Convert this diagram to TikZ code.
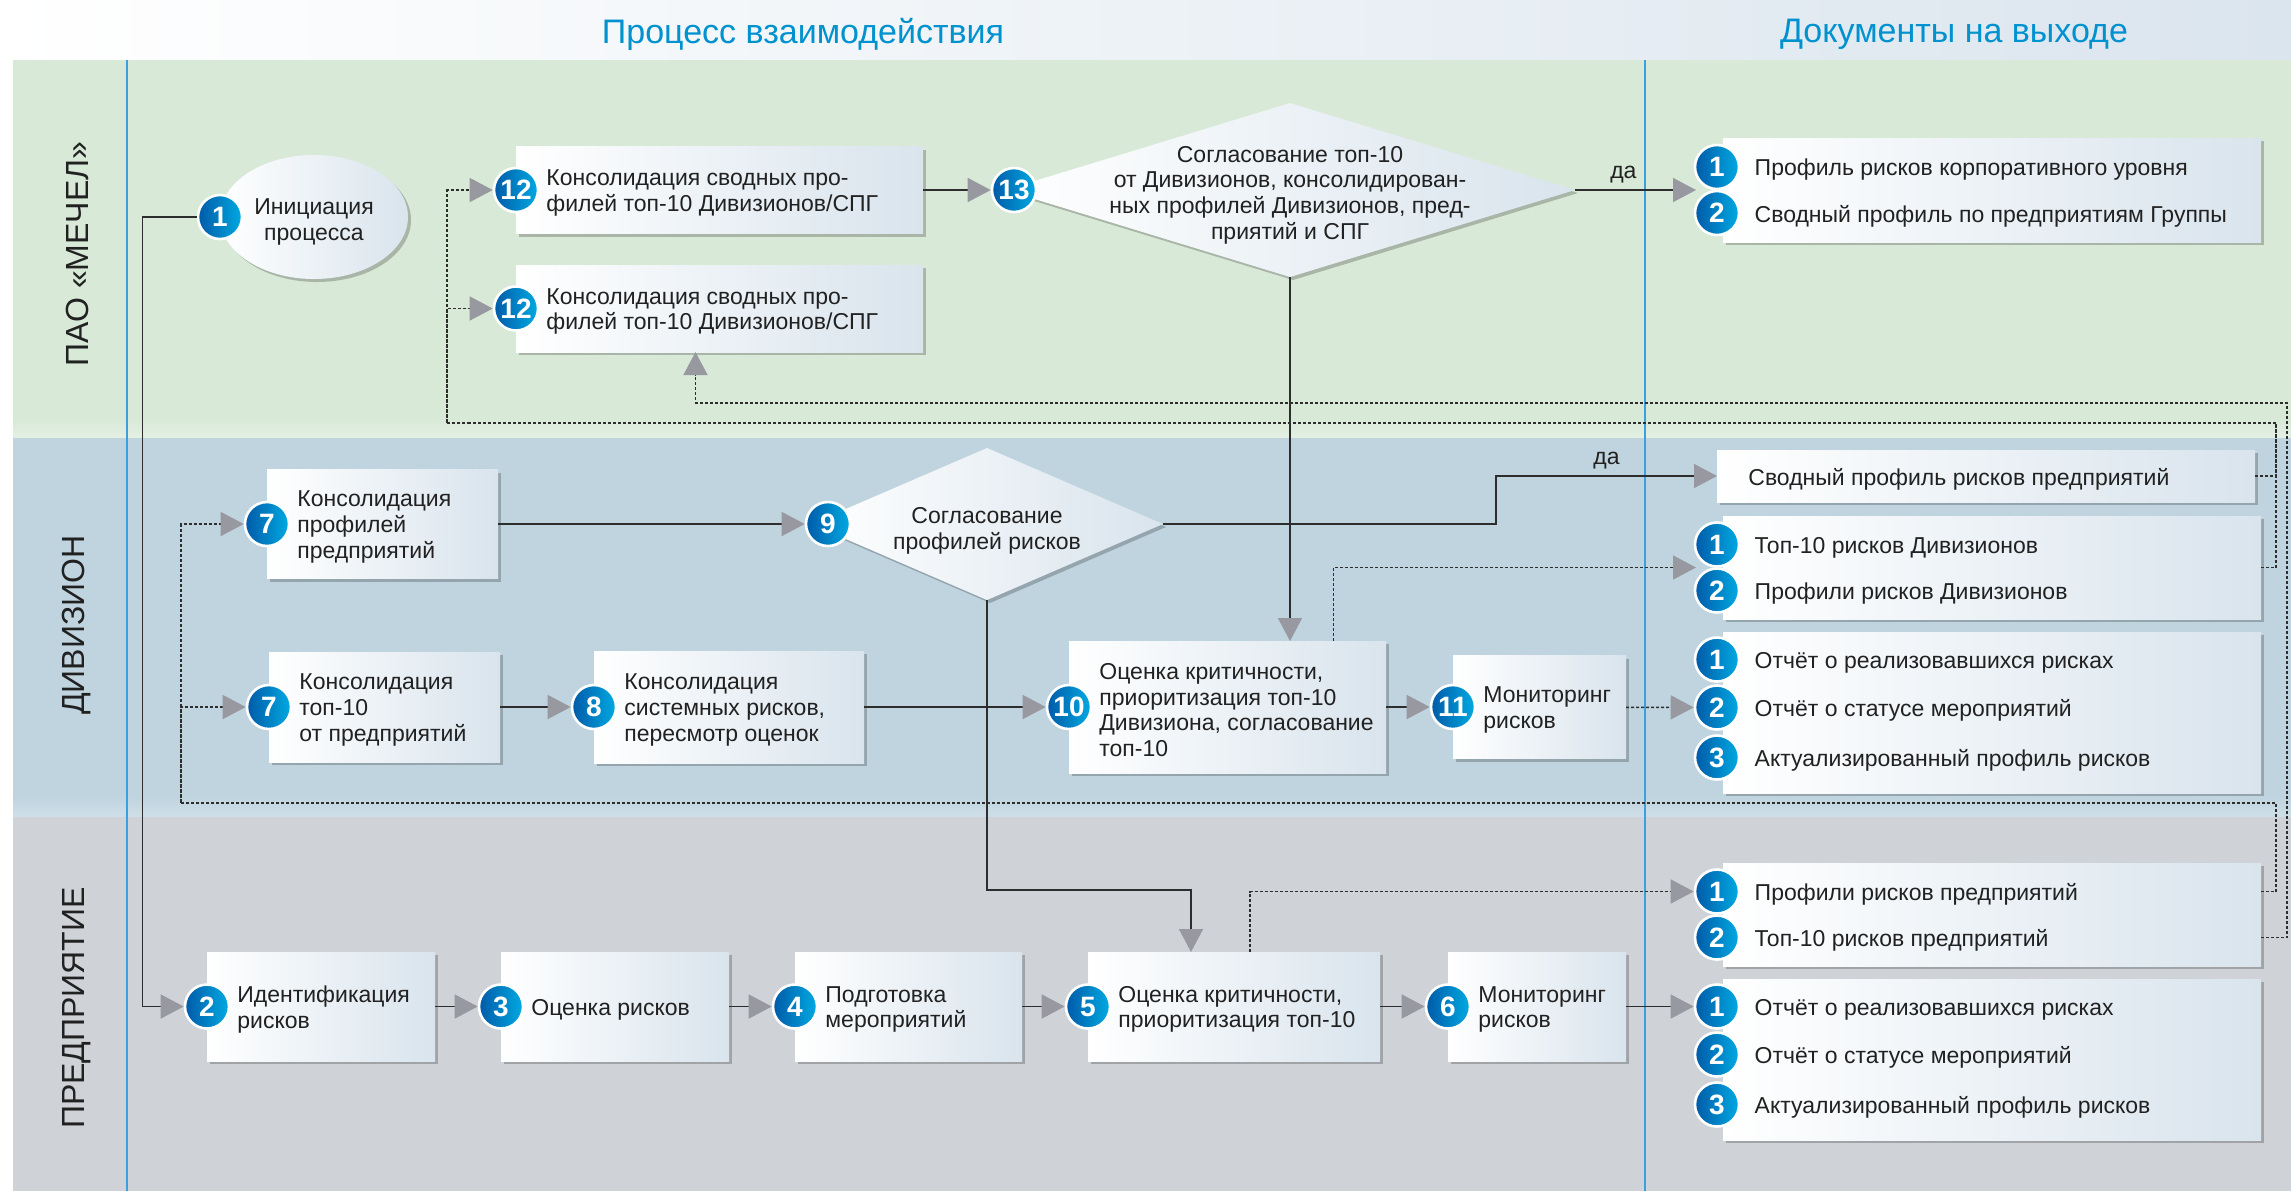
\documentclass[tikz,border=0pt]{standalone}
\usepackage{fontspec}
\setmainfont{Liberation Sans}
\usepackage{tikz}
\usetikzlibrary{arrows.meta,positioning,calc,shapes.geometric,shadows}
\definecolor{lanegreen}{RGB}{216,233,215}
\definecolor{lanegreenlow}{RGB}{228,240,227}
\definecolor{laneblue}{RGB}{192,212,223}
\definecolor{lanebluelow}{RGB}{207,223,232}
\definecolor{lanegrey}{RGB}{207,211,215}
\definecolor{headblue}{RGB}{219,229,238}
\definecolor{titleblue}{RGB}{0,145,207}
\definecolor{divblue}{RGB}{60,160,220}
\definecolor{boxright}{RGB}{217,228,237}
\definecolor{badgedark}{RGB}{0,90,168}
\definecolor{badgelight}{RGB}{0,170,226}
\definecolor{tipgrey}{RGB}{152,152,160}
\definecolor{linedark}{RGB}{45,45,45}
\definecolor{textdark}{RGB}{33,33,33}
\tikzset{
  softshadow/.style={drop shadow={shadow xshift=1.5pt, shadow yshift=-1.5pt,
    opacity=.22, fill=black}},
  procbox/.style={rectangle, left color=white, right color=boxright,
    inner sep=0pt, outer sep=0pt, softshadow},
  startnode/.style={ellipse, left color=white, right color=boxright,
    inner sep=0pt, outer sep=0pt, align=center, softshadow,
    font=\fontsize{11.5}{12.8}\selectfont, text=textdark},
  decision/.style={diamond, left color=white, right color=boxright,
    inner sep=0pt, outer sep=0pt, softshadow},
  boxtext/.style={anchor=west, align=left, inner sep=0pt, text=textdark,
    font=\fontsize{11.5}{12.8}\selectfont, yshift=-1.5pt},
  dectext/.style={align=center, inner sep=0pt, text=textdark,
    font=\fontsize{11.5}{12.8}\selectfont},
  badge/.style={circle, minimum size=22pt, inner sep=0pt,
    left color=badgedark, right color=badgelight, draw=white, line width=1.3pt,
    text=white, font=\fontsize{14}{14}\selectfont\bfseries},
  lanelabel/.style={rotate=90, text=textdark, font=\fontsize{16}{16}\selectfont},
  headtitle/.style={text=titleblue, font=\fontsize{17}{17}\selectfont},
  yeslabel/.style={above, text=textdark, font=\fontsize{11.5}{12}\selectfont},
  flow/.style={draw=linedark, line width=.75pt,
    -{Triangle[length=11.5pt, width=12pt, color=tipgrey]}},
  dashedflow/.style={flow, dash pattern=on 1.5pt off 1pt},
  dashedline/.style={draw=linedark, line width=.75pt, dash pattern=on 1.5pt off 1pt}
}

\begin{document}
\begin{tikzpicture}[x=0.5pt, y=-0.5pt, node distance=33pt]
\useasboundingbox (0,0) rectangle (2291,1191);
\fill[left color=white, right color=headblue] (0,0) rectangle (2291,60);
\fill[lanegreen] (13,60) rectangle (2291,438);
\fill[top color=lanegreen, bottom color=lanegreenlow] (13,418) rectangle (2291,438);
\fill[laneblue] (13,438) rectangle (2291,817);
\fill[top color=laneblue, bottom color=lanebluelow] (13,797) rectangle (2291,817);
\fill[lanegrey] (13,817) rectangle (2291,1191);
\draw[divblue, line width=1pt] (127,60) -- (127,1191) (1645,60) -- (1645,1191);

\node[headtitle] (head1) at (803,34) {Процесс взаимодействия};
\node[headtitle] (head2) at (1954,34) {Документы на выходе};
\node[lanelabel] (lane1) at (77,254) {ПАО «МЕЧЕЛ»};
\node[lanelabel] (lane2) at (77,625) {ДИВИЗИОН};
\node[lanelabel] (lane3) at (77,1008) {ПРЕДПРИЯТИЕ};

% ПАО
\node[startnode, minimum width=94pt, minimum height=62pt] (init) at (314,217) {};
\node[dectext, yshift=-2.5pt] (tinit) at (init) {Инициация\\процесса};
\node[badge] (n1) at (init.west) {1};
\node[procbox, minimum width=203.5pt, minimum height=43.5pt] (p12a) at (719.5,190) {};
\node[boxtext, right=15pt of p12a.west] (t12a) {Консолидация сводных про-\\филей топ-10 Дивизионов/СПГ};
\node[badge] (n12a) at (p12a.west) {12};
\node[procbox, minimum width=203.5pt, minimum height=43.5pt] (p12b) at (719.5,308.5) {};
\node[boxtext, right=15pt of p12b.west] (t12b) {Консолидация сводных про-\\филей топ-10 Дивизионов/СПГ};
\node[badge] (n12b) at (p12b.west) {12};
\node[decision, minimum width=285pt, minimum height=87pt] (d13) at (1290,190) {};
\node[dectext, yshift=-2.5pt] (t13) at (d13) {Согласование топ-10\\от Дивизионов, консолидирован-\\ных профилей Дивизионов, пред-\\приятий и СПГ};
\node[badge] (n13) at ([xshift=4.5pt]d13.west) {13};
\node[procbox, minimum width=269pt, minimum height=52pt] (o1) at (1992,190) {};
\node[badge] (o11) at ([xshift=-3pt, yshift=11.5pt]o1.west) {1};
\node[badge] (o12) at ([xshift=-3pt, yshift=-11.5pt]o1.west) {2};
\node[boxtext, right=7pt of o11] (o1t1) {Профиль рисков корпоративного уровня};
\node[boxtext, right=7pt of o12] (o1t2) {Сводный профиль по предприятиям Группы};

% Дивизион
\node[procbox, minimum width=115.5pt, minimum height=54.5pt] (p7a) at (382.5,524) {};
\node[boxtext, right=15pt of p7a.west] (t7a) {Консолидация\\профилей\\предприятий};
\node[badge] (n7a) at (p7a.west) {7};
\node[decision, minimum width=176pt, minimum height=76pt] (d9) at (987,524) {};
\node[dectext, yshift=-3.5pt] (t9) at (d9) {Согласование\\профилей рисков};
\node[badge] (n9) at ([xshift=8.5pt]d9.west) {9};
\node[procbox, minimum width=115.5pt, minimum height=55pt] (p7b) at (384.5,707) {};
\node[boxtext, right=15pt of p7b.west] (t7b) {Консолидация\\топ-10\\от предприятий};
\node[badge] (n7b) at (p7b.west) {7};
\node[procbox, minimum width=135pt, minimum height=56pt, right=47pt of p7b] (p8) {};
\node[boxtext, right=15pt of p8.west] (t8) {Консолидация\\системных рисков,\\пересмотр оценок};
\node[badge] (n8) at (p8.west) {8};
\node[procbox, minimum width=158.5pt, minimum height=66pt, right=102.5pt of p8] (p10) {};
\node[boxtext, right=15pt of p10.west] (t10) {Оценка критичности,\\приоритизация топ-10\\Дивизиона, согласование\\топ-10};
\node[badge] (n10) at (p10.west) {10};
\node[procbox, minimum width=86.5pt, minimum height=51.5pt, right=33.5pt of p10] (p11) {};
\node[boxtext, right=15pt of p11.west] (t11) {Мониторинг\\рисков};
\node[badge] (n11) at (p11.west) {11};
\node[procbox, minimum width=269pt, minimum height=26pt] (o2a) at (1986,476) {};
\node[boxtext, right=15.5pt of o2a.west] (o2at) {Сводный профиль рисков предприятий};
\node[procbox, minimum width=269pt, minimum height=51.5pt] (o2b) at (1992,567.5) {};
\node[badge] (o2b1) at ([xshift=-3pt, yshift=11.5pt]o2b.west) {1};
\node[badge] (o2b2) at ([xshift=-3pt, yshift=-11.5pt]o2b.west) {2};
\node[boxtext, right=7pt of o2b1] (o2bt1) {Топ-10 рисков Дивизионов};
\node[boxtext, right=7pt of o2b2] (o2bt2) {Профили рисков Дивизионов};
\node[procbox, minimum width=269pt, minimum height=80.5pt] (o2c) at (1992,712.5) {};
\node[badge] (o2c1) at ([xshift=-3pt, yshift=26.5pt]o2c.west) {1};
\node[badge] (o2c2) at ([xshift=-3pt, yshift=2.5pt]o2c.west) {2};
\node[badge] (o2c3) at ([xshift=-3pt, yshift=-22.5pt]o2c.west) {3};
\node[boxtext, right=7pt of o2c1] (o2ct1) {Отчёт о реализовавшихся рисках};
\node[boxtext, right=7pt of o2c2] (o2ct2) {Отчёт о статусе мероприятий};
\node[boxtext, right=7pt of o2c3] (o2ct3) {Актуализированный профиль рисков};

% Предприятие
\node[procbox, minimum width=114pt, minimum height=54.5pt] (p2) at (321,1006.5) {};
\node[boxtext, right=15pt of p2.west] (t2) {Идентификация\\рисков};
\node[badge] (n2) at (p2.west) {2};
\node[procbox, minimum width=114pt, minimum height=54.5pt, right=of p2] (p3) {};
\node[boxtext, right=15pt of p3.west] (t3) {Оценка рисков};
\node[badge] (n3) at (p3.west) {3};
\node[procbox, minimum width=113.5pt, minimum height=54.5pt, right=of p3] (p4) {};
\node[boxtext, right=15pt of p4.west] (t4) {Подготовка\\мероприятий};
\node[badge] (n4) at (p4.west) {4};
\node[procbox, minimum width=146pt, minimum height=54.5pt, right=of p4] (p5) {};
\node[boxtext, right=15pt of p5.west] (t5) {Оценка критичности,\\приоритизация топ-10};
\node[badge] (n5) at (p5.west) {5};
\node[procbox, minimum width=89pt, minimum height=54.5pt, right=34pt of p5] (p6) {};
\node[boxtext, right=15pt of p6.west] (t6) {Мониторинг\\рисков};
\node[badge] (n6) at (p6.west) {6};
\node[procbox, minimum width=269pt, minimum height=51.5pt] (o3a) at (1992,914.5) {};
\node[badge] (o3a1) at ([xshift=-3pt, yshift=11.5pt]o3a.west) {1};
\node[badge] (o3a2) at ([xshift=-3pt, yshift=-11.5pt]o3a.west) {2};
\node[boxtext, right=7pt of o3a1] (o3at1) {Профили рисков предприятий};
\node[boxtext, right=7pt of o3a2] (o3at2) {Топ-10 рисков предприятий};
\node[procbox, minimum width=269pt, minimum height=80.5pt] (o3b) at (1992,1059.5) {};
\node[badge] (o3b1) at ([xshift=-3pt, yshift=26.5pt]o3b.west) {1};
\node[badge] (o3b2) at ([xshift=-3pt, yshift=2.5pt]o3b.west) {2};
\node[badge] (o3b3) at ([xshift=-3pt, yshift=-22.5pt]o3b.west) {3};
\node[boxtext, right=7pt of o3b1] (o3bt1) {Отчёт о реализовавшихся рисках};
\node[boxtext, right=7pt of o3b2] (o3bt2) {Отчёт о статусе мероприятий};
\node[boxtext, right=7pt of o3b3] (o3bt3) {Актуализированный профиль рисков};

\coordinate (busA) at (2287,403);
\coordinate (busB) at (2276,423);
\coordinate (busBl) at (447,423);
\coordinate (busC) at (2276,803);
\coordinate (busCl) at (181,803);

\draw[flow] (n1.west) -- ++(-54,0) |- (n2);
\draw[flow] (p12a) -- (n13);
\draw[flow] (d13.east) -- node[yeslabel, pos=.4]{да} ([xshift=-13.5pt]o1.west);
\draw[flow] (d13.south) -- (d13.south |- p10.north);
\draw[flow] (d9.east) -- ++(333,0) |- node[yeslabel, pos=.75]{да} (o2a.west);
\draw[flow] (d9.south) -- ++(0,290) -| ([xshift=-21.5pt]p5.north);
\draw[flow] (p7a) -- (n9);
\draw[flow] (p7b) -- (n8);
\draw[flow] (p8) -- (n10);
\draw[flow] (p10) -- (n11);
\draw[flow] (p2) -- (n3);
\draw[flow] (p3) -- (n4);
\draw[flow] (p4) -- (n5);
\draw[flow] (p5) -- (n6);
\draw[flow] (p6) -- (o3b1);
\draw[dashedflow] (p11) -- (o2c2);
\draw[dashedflow] ([xshift=53pt]p10.north) |- ([xshift=-13.5pt]o2b.west);
\draw[dashedflow] ([xshift=8pt]p5.north) |- (o3a1);
\draw[dashedflow] (o3a.east |- o3a2) -| (busA) -| ([xshift=-12pt]p12b.south);
\draw[dashedline] (o2a.east) -| (busB);
\draw[dashedflow] (o2b.east) -| (busB) -- (busBl) |- (n12a);
\draw[dashedflow] (busBl) |- (n12b);
\draw[dashedflow] (o3a.east |- o3a1) -| (busC) -- (busCl) |- (n7a);
\draw[dashedflow] (busCl) |- (n7b);
\end{tikzpicture}
\end{document}
